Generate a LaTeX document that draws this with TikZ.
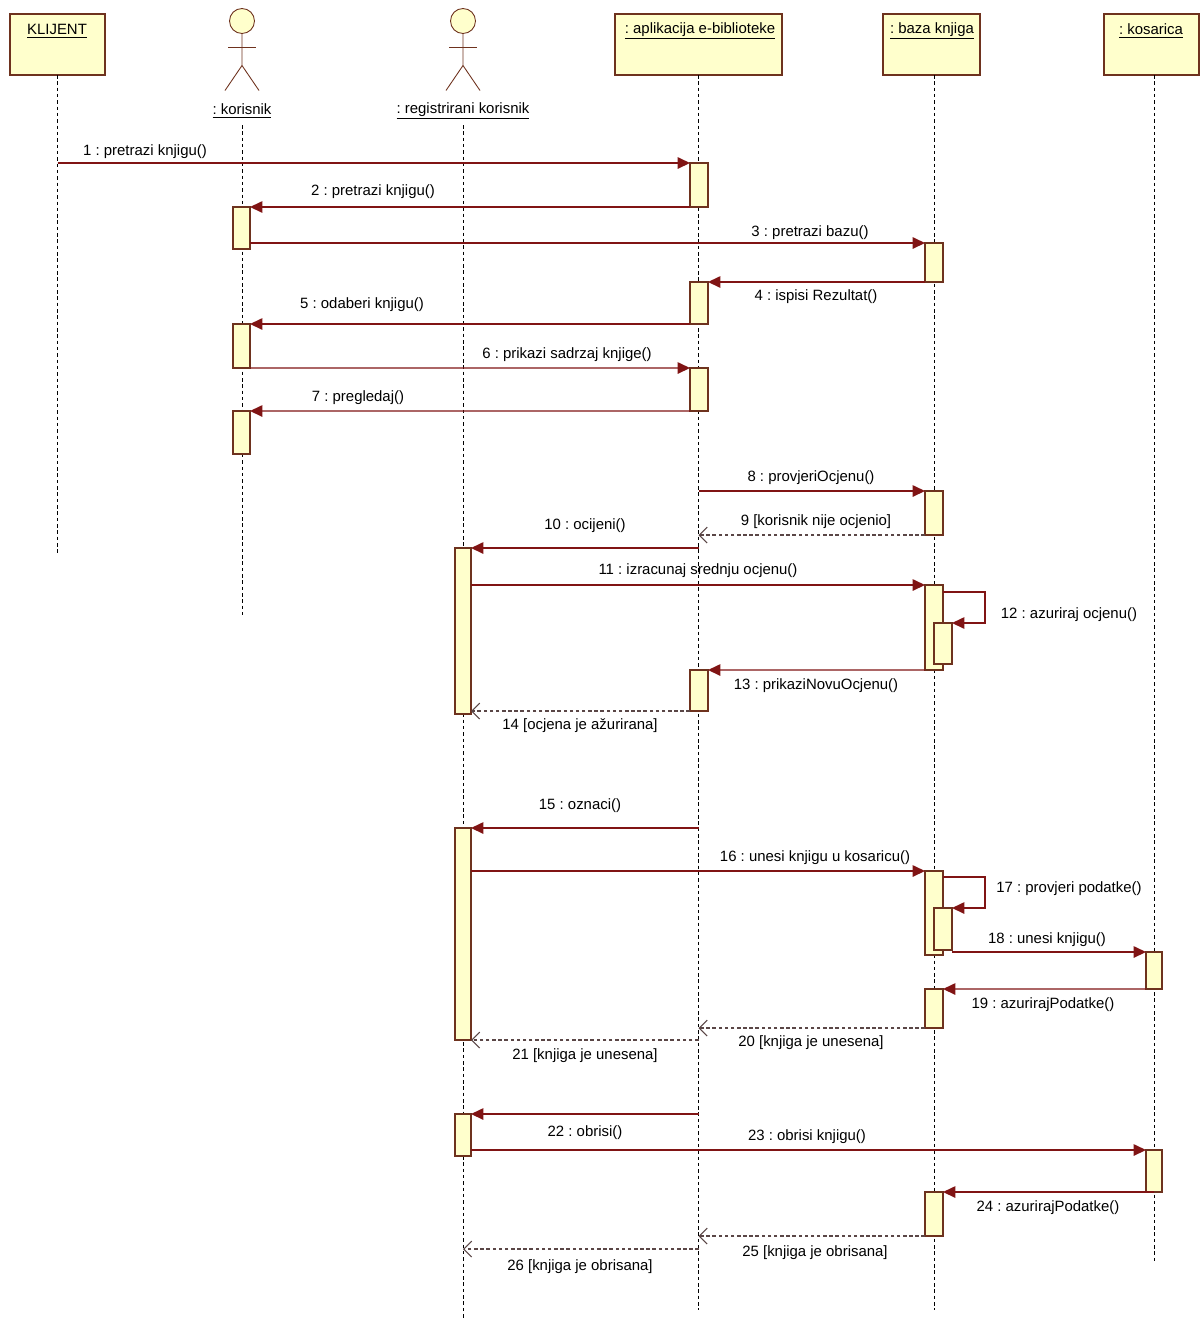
\documentclass[tikz,border=0pt]{standalone}
\usepackage{fontspec}
\setmainfont{Liberation Sans}
\usetikzlibrary{arrows.meta,fit}
\frenchspacing

\definecolor{lineRed}{RGB}{128,20,20}
\definecolor{boxFill}{RGB}{255,255,204}
\definecolor{boxLine}{RGB}{110,50,30}
\definecolor{retGray}{RGB}{90,70,70}

\tikzset{
  obj/.style={draw=boxLine, fill=boxFill, line width=0.6pt, inner sep=0pt, outer sep=0pt},
  act/.style={draw=boxLine, fill=boxFill, line width=0.6pt, inner sep=0pt, outer sep=0pt},
  head/.style={circle, draw=boxLine, fill=boxFill, line width=0.5pt, minimum size=0.5cm, inner sep=0pt, outer sep=0pt},
  life/.style={dash pattern=on 2pt off 1.6pt, line width=0.5pt},
  msg/.style={draw=lineRed, line width=0.75pt, -{Triangle[length=7pt,width=6.5pt,fill=lineRed]}},
  ret/.style={draw=retGray, line width=0.6pt, dash pattern=on 2pt off 1.5pt, -{Straight Barb[length=4.5pt,width=9pt]}},
  txt/.style={font=\fontsize{8.5}{10}\selectfont, inner sep=0pt},
}

\begin{document}
\begin{tikzpicture}[x=0.02cm, y=-0.02cm]
  \useasboundingbox (0,0) rectangle (1203,1319);

  % objects
  \node[obj, fit={(10,14) (105,75)}] (klijent) {};
  \node[obj, fit={(615,14) (782,75)}] (apl) {};
  \node[obj, fit={(883,14) (980,75)}] (baza) {};
  \node[obj, fit={(1104,14) (1199,75)}] (kos) {};
  \node[txt] (klijentName) at (57,31) {\underline{KLIJENT}};
  \node[txt] (aplName) at (700,31) {\underline{: aplikacija e-biblioteke}};
  \node[txt] (bazaName) at (932,31) {\underline{: baza knjiga}};
  \node[txt] (kosName) at (1151,31) {\underline{: kosarica}};

  % actors
  \foreach \x/\n in {242/kor, 463/reg} {
    \node[head] (\n) at (\x,21) {};
    \draw[boxLine, line width=0.5pt] (\n.south) -- ++(0,32) -- ++(-17,25);
    \draw[boxLine, line width=0.5pt] (\n.south) ++(0,32) -- ++(17,25);
    \draw[boxLine, line width=0.5pt] (\n.south) ++(-14,14) -- ++(28,0);
  }
  \node[txt] (korName) at (242,111) {\underline{: korisnik}};
  \node[txt] (regName) at (463,111) {\underline{: registrirani korisnik}};

  % lifelines
  \coordinate (korTop) at (242,125);
  \coordinate (regTop) at (463,125);
  \coordinate (klijentEnd) at (58,555);
  \coordinate (korEnd) at (242,615);
  \coordinate (regEnd) at (463,1319);
  \coordinate (aplEnd) at (699,1310);
  \coordinate (bazaEnd) at (934,1310);
  \coordinate (kosEnd) at (1154,1263);
  \draw[life] (klijent.south) -- (klijentEnd -| klijent);
  \draw[life] (korTop) -- (korEnd);
  \draw[life] (regTop) -- (regEnd);
  \draw[life] (apl.south) -- (aplEnd -| apl);
  \draw[life] (baza.south -| bazaEnd) -- (bazaEnd);
  \draw[life] (kos.south -| kosEnd) -- (kosEnd);

  % activations
  \node[act, fit={(690,163) (708,207)}] (a1) {};
  \node[act, fit={(690,282) (708,324)}] (a2) {};
  \node[act, fit={(690,368) (708,411)}] (a3) {};
  \node[act, fit={(690,670) (708,711)}] (a4) {};
  \node[act, fit={(233,207) (250,249)}] (k1) {};
  \node[act, fit={(233,324) (250,368)}] (k2) {};
  \node[act, fit={(233,411) (250,454)}] (k3) {};
  \node[act, fit={(925,243) (943,282)}] (b1) {};
  \node[act, fit={(925,491) (943,535)}] (b2) {};
  \node[act, fit={(925,585) (943,670)}] (b3) {};
  \node[act, fit={(934,623) (952,664)}] (b3n) {};
  \node[act, fit={(925,871) (943,955)}] (b4) {};
  \node[act, fit={(934,908) (952,950)}] (b4n) {};
  \node[act, fit={(925,989) (943,1028)}] (b5) {};
  \node[act, fit={(925,1192) (943,1236)}] (b6) {};
  \node[act, fit={(455,548) (471,714)}] (r1) {};
  \node[act, fit={(455,828) (471,1040)}] (r2) {};
  \node[act, fit={(455,1114) (471,1156)}] (r3) {};
  \node[act, fit={(1146,952) (1162,989)}] (s1) {};
  \node[act, fit={(1146,1150) (1162,1192)}] (s2) {};

  % messages
  \draw[msg] (a1.north west -| klijent) -- (a1.north west);
  \draw[msg] (a1.south west) -- (k1.north east);
  \draw[msg] (k1.east |- b1.north) -- (b1.north west);
  \draw[msg] (b1.south west) -- (a2.north east);
  \draw[msg] (a2.south west) -- (k2.north east);
  \draw[msg] (k2.south east) -- (a3.north west);
  \draw[msg] (a3.south west) -- (k3.north east);
  \draw[msg] (b2.north west -| apl) -- (b2.north west);
  \draw[ret] (b2.south west) -- (b2.south west -| apl);
  \draw[msg] (r1.north east -| apl) -- (r1.north east);
  \draw[msg] (r1.east |- b3.north) -- (b3.north west);
  \draw[msg] (b3.north east) ++(0,7) -- ++(42,0) |- (b3n.north east);
  \draw[msg] (b3.south west) -- (a4.north east);
  \draw[ret] (a4.south west) -- (a4.south west -| r1.east);
  \draw[msg] (r2.north east -| apl) -- (r2.north east);
  \draw[msg] (r2.east |- b4.north) -- (b4.north west);
  \draw[msg] (b4.north east) ++(0,6) -- ++(42,0) |- (b4n.north east);
  \draw[msg] (b4n.east |- s1.north) -- (s1.north west);
  \draw[msg] (s1.south west) -- (b5.north east);
  \draw[ret] (b5.south west) -- (b5.south west -| apl);
  \draw[ret] (r2.south east -| apl) -- (r2.south east);
  \draw[msg] (r3.north east -| apl) -- (r3.north east);
  \draw[msg] (r3.east |- s2.north) -- (s2.north west);
  \draw[msg] (s2.south) -- (b6.north east);
  \draw[ret] (b6.south west) -- (b6.south west -| apl);
  \coordinate (ret26) at (699,1249);
  \draw[ret] (ret26) -- (ret26 -| regTop);

  % message labels
  \node[txt] (m1) at (145,152) {1 : pretrazi knjigu()};
  \node[txt] (m2) at (373,192) {2 : pretrazi knjigu()};
  \node[txt] (m3) at (810,233) {3 : pretrazi bazu()};
  \node[txt] (m4) at (816,297) {4 : ispisi Rezultat()};
  \node[txt] (m5) at (362,305) {5 : odaberi knjigu()};
  \node[txt] (m6) at (567,355) {6 : prikazi sadrzaj knjige()};
  \node[txt] (m7) at (358,398) {7 : pregledaj()};
  \node[txt] (m8) at (811,478) {8 : provjeriOcjenu()};
  \node[txt] (m9) at (816,522) {9 [korisnik nije ocjenio]};
  \node[txt] (m10) at (585,526) {10 : ocijeni()};
  \node[txt] (m11) at (698,571) {11 : izracunaj srednju ocjenu()};
  \node[txt] (m12) at (1069,615) {12 : azuriraj ocjenu()};
  \node[txt] (m13) at (816,686) {13 : prikaziNovuOcjenu()};
  \node[txt] (m14) at (580,726) {14 [ocjena je ažurirana]};
  \node[txt] (m15) at (580,806) {15 : oznaci()};
  \node[txt] (m16) at (815,858) {16 : unesi knjigu u kosaricu()};
  \node[txt] (m17) at (1069,889) {17 : provjeri podatke()};
  \node[txt] (m18) at (1047,940) {18 : unesi knjigu()};
  \node[txt] (m19) at (1043,1005) {19 : azurirajPodatke()};
  \node[txt] (m20) at (811,1043) {20 [knjiga je unesena]};
  \node[txt] (m21) at (585,1056) {21 [knjiga je unesena]};
  \node[txt] (m22) at (585,1133) {22 : obrisi()};
  \node[txt] (m23) at (807,1137) {23 : obrisi knjigu()};
  \node[txt] (m24) at (1048,1208) {24 : azurirajPodatke()};
  \node[txt] (m25) at (815,1253) {25 [knjiga je obrisana]};
  \node[txt] (m26) at (580,1267) {26 [knjiga je obrisana]};
\end{tikzpicture}
\end{document}
